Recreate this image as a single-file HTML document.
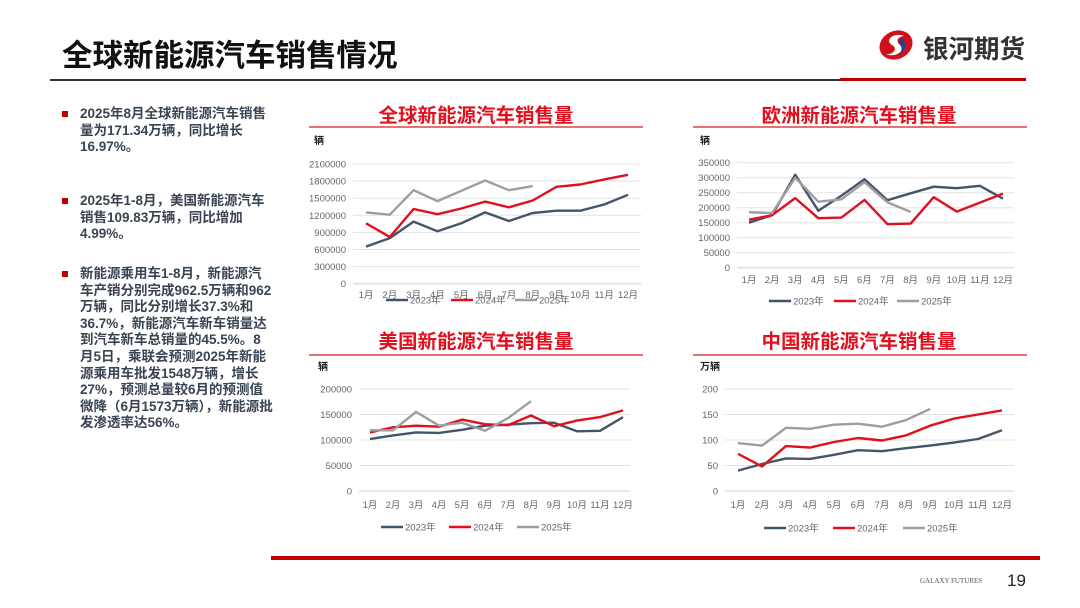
<!DOCTYPE html>
<html><head><meta charset="utf-8">
<style>
body{margin:0;background:#fff;}
#page{position:relative;width:1080px;height:608px;overflow:hidden;font-family:"Liberation Sans","Noto Sans CJK SC",sans-serif;background:#fff;}
.abs{position:absolute;}
.bul{position:absolute;left:62px;width:212px;font-size:13.5px;font-weight:bold;color:#384454;line-height:16.6px;padding-left:18px;box-sizing:border-box;}
.bul::before{content:"";position:absolute;left:0;top:5px;width:6px;height:6px;background:#c00000;}
svg text{font-family:"Liberation Sans","Noto Sans CJK SC",sans-serif;}
</style></head>
<body>
<div id="page">
<div class="abs" style="left:62px;top:31px;font-size:30.5px;font-weight:bold;color:#111;">全球新能源汽车销售情况</div>
<div class="abs" style="left:50px;top:79px;width:790px;height:2px;background:#333;"></div>
<div class="abs" style="left:840px;top:78px;width:186px;height:3px;background:#c00000;"></div>
<svg class="abs" style="left:876px;top:28px" width="40" height="34" viewBox="0 0 40 34">
<ellipse cx="20" cy="17" rx="17" ry="14" fill="#d0101b" transform="rotate(-25 20 17)"/>
<path d="M28 8 C18 4 8 12 16 17 C22 20 18 27 10 26 C18 30 30 24 24 17 C19 12 22 9 28 8Z" fill="#fff"/>
<path d="M26 10 C30 14 32 22 22 28 C28 22 26 16 22 14Z" fill="#1f3f9a"/>
</svg>
<div class="abs" style="left:923px;top:29px;font-size:25.5px;font-weight:bold;color:#333;">银河期货</div>

<div class="bul" style="top:106px;">2025年8月全球新能源汽车销售量为171.34万辆，同比增长16.97%。</div>
<div class="bul" style="top:193px;">2025年1-8月，美国新能源汽车销售109.83万辆，同比增加4.99%。</div>
<div class="bul" style="top:266px;">新能源乘用车1-8月，新能源汽车产销分别完成962.5万辆和962万辆，同比分别增长37.3%和36.7%，新能源汽车新车销量达到汽车新车总销量的45.5%。8月5日，乘联会预测2025年新能源乘用车批发1548万辆，增长27%，预测总量较6月的预测值微降（6月1573万辆），新能源批发渗透率达56%。</div>

<svg id="charts" class="abs" style="left:0;top:0" width="1080" height="608"></svg>

<div class="abs" style="left:271px;top:556px;width:769px;height:4px;background:#c00000;"></div>
<div class="abs" style="left:920px;top:577px;font-size:7px;color:#555;font-family:'Liberation Serif',serif;">GALAXY FUTURES</div>
<div class="abs" style="left:1007px;top:571px;font-size:17px;color:#222;">19</div>
</div>
<script>
const months=["1月","2月","3月","4月","5月","6月","7月","8月","9月","10月","11月","12月"];
const seriesNames=["2023年","2024年","2025年"];
const globalTicks=[0,300000,600000,900000,1200000,1500000,1800000,2100000];
const global2023=[650000,800000,1090000,920000,1060000,1250000,1100000,1240000,1280000,1280000,1390000,1560000];
const global2024=[1060000,820000,1310000,1220000,1320000,1440000,1340000,1460000,1700000,1740000,1830000,1910000];
const global2025=[1250000,1210000,1640000,1450000,1630000,1810000,1640000,1713000];
const euTicks=[0,50000,100000,150000,200000,250000,300000,350000];
const eu2023=[150000,175000,310000,190000,240000,295000,225000,248000,270000,265000,273000,230000];
const eu2024=[160000,175000,232000,165000,167000,226000,145000,147000,235000,187000,217000,247000];
const eu2025=[185000,182000,300000,220000,228000,285000,218000,186000];
const usTicks=[0,50000,100000,150000,200000];
const us2023=[102000,109000,115000,114000,120000,128000,130000,133000,134000,117000,118000,145000];
const us2024=[115000,125000,128000,126000,140000,131000,129000,148000,127000,138000,145000,158000];
const us2025=[119000,119000,155000,128000,134000,118000,143000,176000];
const cnTicks=[0,50,100,150,200];
const cn2023=[40,53,64,63,71,80,78,84,89,95,102,119];
const cn2024=[73,48,88,85,96,104,99,109,128,142,150,158];
const cn2025=[94,89,124,122,130,132,126,139,161];

const NS="http://www.w3.org/2000/svg";
const svg=document.getElementById('charts');
const colors=["#44546a","#e0101e","#9e9e9e"];
function mk(tag,attrs,parent){const e=document.createElementNS(NS,tag);for(const k in attrs)e.setAttribute(k,attrs[k]);(parent||svg).appendChild(e);return e;}
function chart(cfg){
  const g=mk('g',{});
  
  
  const t=mk('text',{x:cfg.titleX,y:cfg.titleY,'text-anchor':'middle','font-size':19.5,'font-weight':'bold',fill:'#e0101e'},g);
  t.textContent=cfg.title;
  
  
  const r=mk('line',{x1:cfg.ruleX1,x2:cfg.ruleX2,y1:cfg.ruleY,y2:cfg.ruleY,stroke:'#e04040','stroke-width':1.5},g);
  
  
  const u=mk('text',{x:cfg.unitX,y:cfg.unitY,'font-size':10,'font-weight':'bold',fill:'#222'},g);
  u.textContent=cfg.unit;
  
  
  const max=cfg.ticks[cfg.ticks.length-1];
  const ys=v=>cfg.y0+(cfg.y1-cfg.y0)*v/max;
  const xs=i=>cfg.m1+(cfg.m12-cfg.m1)*i/11;
  cfg.ticks.forEach(v=>{
    const gl=mk('line',{x1:cfg.px1,x2:cfg.px2,y1:ys(v),y2:ys(v),stroke:v===0?'#d0d0d0':'#e3e3e3','stroke-width':1},g);
    
    
    const tl=mk('text',{x:cfg.px1-7,y:ys(v)+3.5,'text-anchor':'end','font-size':9.5,fill:'#666'},g);
    tl.textContent=String(v);
    
    
  });
  months.forEach((m,i)=>{
    const xl=mk('text',{x:xs(i),y:cfg.labY,'text-anchor':'middle','font-size':9.5,fill:'#666'},g);
    xl.textContent=m;
    
    
  });
  cfg.series.forEach((s,k)=>{
    const pts=s.map((v,i)=>xs(i).toFixed(1)+','+ys(v).toFixed(1)).join(' ');
    const pl=mk('polyline',{points:pts,fill:'none',stroke:colors[k],'stroke-width':2.4,'stroke-linejoin':'round'},g);
    
    
  });
  cfg.legX.forEach((lx,k)=>{
    const ll=mk('line',{x1:lx,x2:lx+22,y1:cfg.legY,y2:cfg.legY,stroke:colors[k],'stroke-width':2.6},g);
    
    
    const lt=mk('text',{x:lx+24,y:cfg.legY+3.5,'font-size':9.5,fill:'#666'},g);
    lt.textContent=seriesNames[k];
    
    
  });
}
chart({name:'global-sales-chart',title:'全球新能源汽车销售量',titleX:476,titleY:122,ruleX1:309,ruleX2:643,ruleY:127,unit:'辆',unitX:314,unitY:144,
  ticks:globalTicks,y0:283.7,y1:164,px1:353,px2:641,m1:366,m12:628,labY:298,legY:300,legX:[386,451,515],series:[global2023,global2024,global2025]});
chart({name:'europe-sales-chart',title:'欧洲新能源汽车销售量',titleX:859,titleY:122,ruleX1:693,ruleX2:1027,ruleY:127,unit:'辆',unitX:700,unitY:144,
  ticks:euTicks,y0:267.7,y1:162.7,px1:737,px2:1014,m1:749,m12:1003,labY:283,legY:301,legX:[769,834,897],series:[eu2023,eu2024,eu2025]});
chart({name:'us-sales-chart',title:'美国新能源汽车销售量',titleX:476,titleY:348,ruleX1:309,ruleX2:643,ruleY:355,unit:'辆',unitX:318,unitY:370,
  ticks:usTicks,y0:491,y1:389,px1:359,px2:630,m1:370,m12:623,labY:508,legY:527,legX:[381,449,517],series:[us2023,us2024,us2025]});
chart({name:'china-sales-chart',title:'中国新能源汽车销售量',titleX:859,titleY:348,ruleX1:693,ruleX2:1027,ruleY:355,unit:'万辆',unitX:700,unitY:370,
  ticks:cnTicks,y0:491,y1:389,px1:725,px2:1014,m1:738,m12:1002,labY:508,legY:528,legX:[764,833,903],series:[cn2023,cn2024,cn2025]});
</script>
</body></html>
